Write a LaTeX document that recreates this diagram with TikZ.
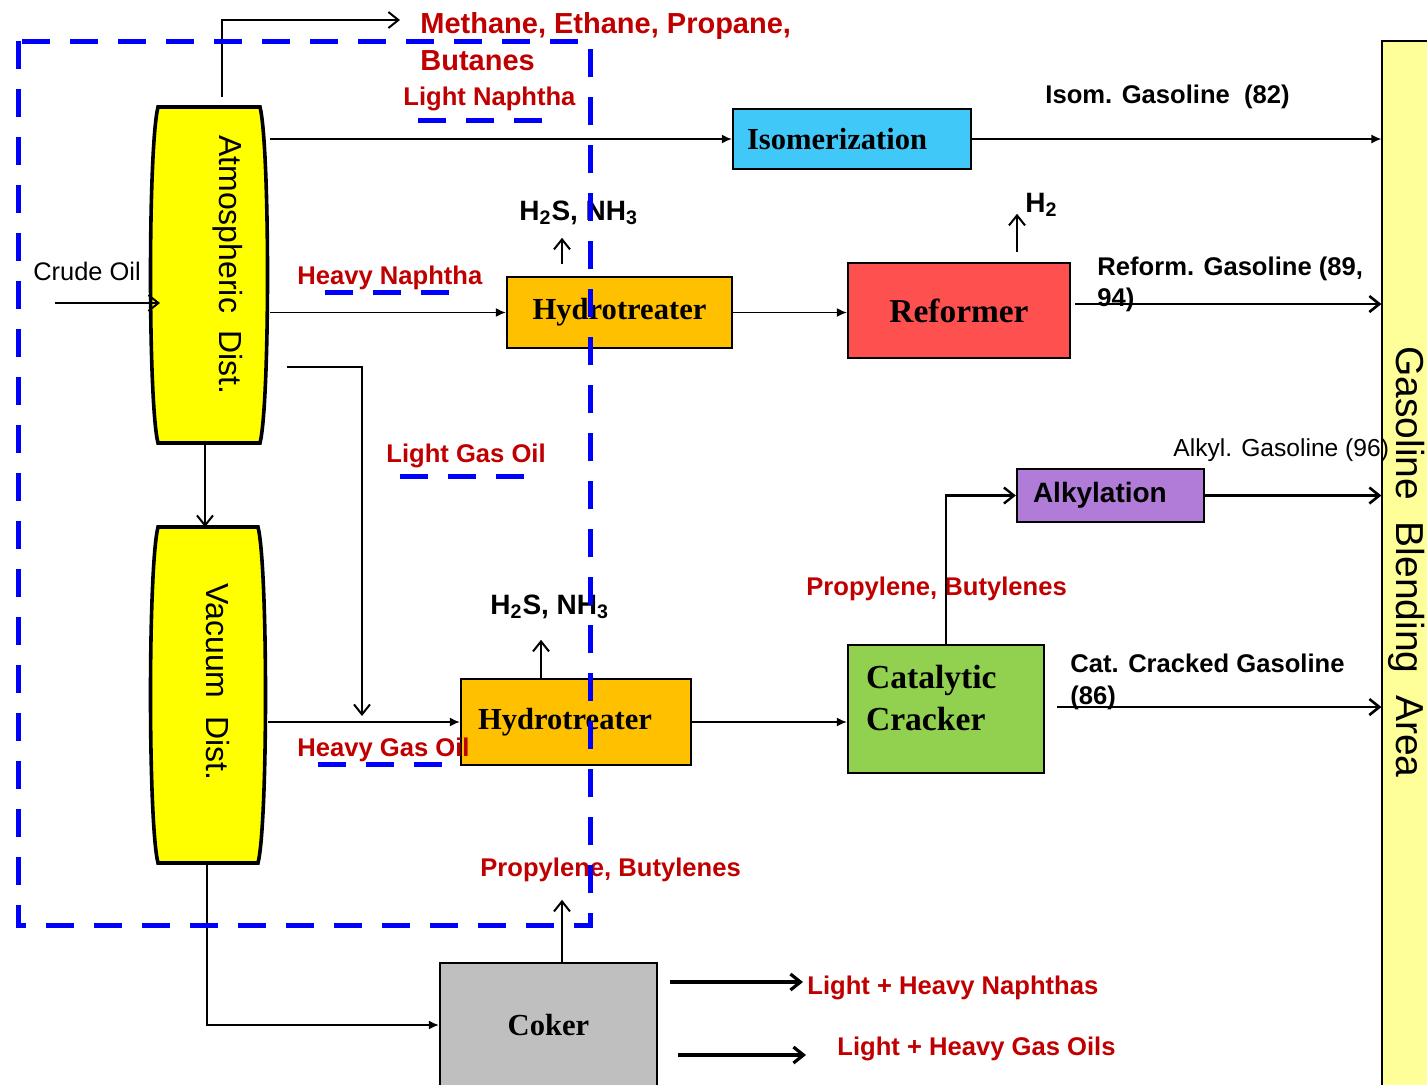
\documentclass[tikz,border=0pt]{standalone}
\usepackage{fontspec}
\setmainfont{Liberation Sans}
\newfontfamily\timesf{Liberation Serif}
\usetikzlibrary{arrows.meta,backgrounds}

\definecolor{lblred}{HTML}{C00000}
\definecolor{isocyan}{HTML}{3FC8F8}
\definecolor{htorange}{HTML}{FFC000}
\definecolor{refred}{HTML}{FF5050}
\definecolor{catgreen}{HTML}{92D050}
\definecolor{alkpurple}{HTML}{B07CD8}
\definecolor{cokergray}{HTML}{BFBFBF}
\definecolor{blendyellow}{HTML}{FFFF99}
\definecolor{colyellow}{HTML}{FFFF00}

\begin{document}
\begin{tikzpicture}[x=0.5pt, y=-0.5pt,
  unit/.style={draw, line width=1.2pt, inner sep=2pt, font=\timesf\bfseries\fontsize{15.3}{19}\selectfont},
  column/.style={inner sep=0pt, outer sep=0pt, minimum width=61pt, minimum height=168pt},
  vessel/.style={draw, fill=colyellow, line width=1.8pt},
  coltext/.style={rotate=-90, font=\fontsize{16}{18}\selectfont},
  feed/.style={anchor=west, inner sep=2pt, align=left, text=lblred, font=\bfseries\fontsize{12.8}{15}\selectfont},
  prod/.style={anchor=west, inner sep=2pt, align=left, font=\bfseries\fontsize{12.8}{16}\selectfont},
  flow/.style={-{Latex[length=5pt,width=4.5pt]}, line width=0.7pt},
  vent/.style={-{Straight Barb[length=5pt,width=8pt]}, line width=1pt},
  boundary/.style={draw=blue, line width=2.5pt, dash pattern=on 14pt off 10pt}
]
  \useasboundingbox (0,0) rectangle (1427,1084);

  % Gasoline blending area
  \node[draw, line width=0.6pt, fill=blendyellow, minimum width=30pt, minimum height=525pt] (blend) at (1412,566) {};
  \node[rotate=-90, font=\fontsize{19.5}{22}\selectfont] (blendtxt) at (1407,562) {Gasoline\ \ Blending\ \ Area};

  % Distillation columns
  \node[column] (atm) at (209,275) {};
  \node[column, minimum width=60pt] (vac) at (208,695) {};
  \begin{scope}[on background layer]
    \foreach \v in {atm,vac} {
      \draw[vessel] ([xshift=5pt]\v.north west) -- ([xshift=-5pt]\v.north east)
        .. controls ([yshift=-20pt]\v.north east) and ([yshift=20pt]\v.south east) .. ([xshift=-5pt]\v.south east)
        -- ([xshift=5pt]\v.south west)
        .. controls ([yshift=20pt]\v.south west) and ([yshift=-20pt]\v.north west) .. cycle;
    }
  \end{scope}
  \node[coltext] (atmtxt) at (228,265) {Atmospheric\ \ Dist.};
  \node[coltext] (vactxt) at (218,682) {Vacuum\ \ Dist.};

  % Process units
  \node[unit, fill=isocyan, minimum width=119pt, minimum height=30pt, text width=105pt, align=left] (isom) at (852,139) {Isomerization};
  \node[unit, fill=htorange, minimum width=112.5pt, minimum height=35.5pt] (ht1) at (619.5,312.5) {Hydrotreater};
  \node[unit, fill=refred, minimum width=111pt, minimum height=47.5pt, font=\timesf\bfseries\fontsize{16.7}{20}\selectfont] (ref) at (959,310.5) {Reformer};
  \node[unit, fill=htorange, minimum width=115pt, minimum height=43pt, text width=98pt, align=left] (ht2) at (576,722) {Hydrotreater};
  \node[unit, fill=catgreen, minimum width=98pt, minimum height=64pt, text width=80pt, text depth=32pt, align=left, font=\timesf\bfseries\fontsize{16.8}{21}\selectfont] (cat) at (946,709) {Catalytic\\Cracker};
  \node[unit, fill=alkpurple, minimum width=93.5pt, minimum height=26.5pt, text width=77.5pt, align=left, font=\bfseries\fontsize{14}{16}\selectfont] (alk) at (1110.5,495.5) {Alkylation};
  \node[unit, fill=cokergray, minimum width=108.5pt, minimum height=62pt] (coker) at (548.5,1025) {Coker};

  % Stream labels
  \node[prod, font=\fontsize{12.7}{15}\selectfont] (crude) at (29,271) {Crude Oil};
  \node[feed, font=\bfseries\fontsize{14.5}{18.5}\selectfont] (gases) at (416,41.5) {Methane, Ethane, Propane,\\Butanes};
  \node[feed] (lnaph) at (399,99) {Light Naphtha};
  \node[feed] (hnaph) at (293,278) {Heavy Naphtha};
  \node[feed] (lgo) at (382,456) {Light Gas Oil};
  \node[feed] (hgo) at (293,750) {Heavy Gas Oil};
  \node[feed] (olef1) at (802,589) {Propylene, Butylenes};
  \node[feed] (olef2) at (476,870) {Propylene, Butylenes};
  \node[feed] (cknaph) at (803,988) {Light + Heavy Naphthas};
  \node[feed] (ckgo) at (833,1049) {Light + Heavy Gas Oils};
  \node[prod] (isomg) at (1041,97) {Isom. Gasoline\ \ (82)};
  \node[prod, font=\bfseries\fontsize{12.8}{15.5}\selectfont] (refg) at (1093,284.5) {Reform. Gasoline (89,\\94)};
  \node[prod, font=\fontsize{12.3}{15}\selectfont] (alkg) at (1169,450) {Alkyl. Gasoline (96)};
  \node[prod] (catg) at (1066,682) {Cat. Cracked Gasoline\\(86)};
  \node[prod, font=\bfseries\fontsize{14}{16}\selectfont] (h2s1) at (515,213) {H\textsubscript{2}S, NH\textsubscript{3}};
  \node[prod, font=\bfseries\fontsize{14}{16}\selectfont] (h2s2) at (486,607) {H\textsubscript{2}S, NH\textsubscript{3}};
  \node[prod, font=\bfseries\fontsize{14}{16}\selectfont] (h2) at (1021,205) {H\textsubscript{2}};

  % Free ends
  \coordinate (crudein) at (55,303);
  \coordinate (gastip) at (400,20);
  \coordinate (lgoend) at (362,716);
  \coordinate (refout) at (1075,304);
  \coordinate (catout) at (1057,707);
  \coordinate (ck1) at (670,982);
  \coordinate (ck2) at (678,1055);

  % Arrows
  \draw[vent] (crudein) -- ([xshift=6pt]crudein -| atm.west);
  \draw[vent] ([xshift=6.5pt,yshift=5pt]atm.north) |- (gastip);
  \draw[flow] (atm.east |- isom) -- (isom);
  \draw[flow] (atm.east |- ht1) -- (ht1);
  \draw[vent] ([xshift=8.5pt,yshift=-46pt]atm.east) -| (lgoend);
  \draw[vent] ([xshift=-2pt]atm.south) -- ([xshift=-1.5pt]vac.north);
  \draw[flow] (vac.east |- ht2) -- (ht2);
  \draw[flow] ([xshift=-0.5pt]vac.south) |- (coker.west);
  \draw[vent] ([xshift=-28.75pt,yshift=6pt]ht1.north) -- ++(0,-26);
  \draw[vent] ([xshift=-17.5pt]ht2.north) -- ++(0,-38);
  \draw[vent] ([xshift=29pt,yshift=5pt]ref.north) -- ++(0,-38);
  \draw[vent] ([xshift=6.75pt]coker.north) -- ++(0,-62);
  \draw[flow] (ht1.east) -- (ht1.east -| ref.west);
  \draw[flow] (ht2.east) -- (ht2.east -| cat.west);
  \draw[vent, line width=1.2pt] (cat.north) |- (alk.west);
  \draw[flow] (isom.east) -- (isom.east -| blend.west);
  \draw[vent, line width=1.3pt] (refout) -- (refout -| blend.west);
  \draw[vent, line width=1.3pt] (alk.east) -- (alk.east -| blend.west);
  \draw[vent, line width=1.3pt] (catout) -- (catout -| blend.west);
  \draw[vent, line width=1.6pt] (ck1) -- (cknaph.west |- ck1);
  \draw[vent, line width=1.6pt] (ck2) -- ([xshift=-13.5pt]ckgo.west |- ck2);

  % Distillation boundary
  \draw[boundary] (18,41) rectangle (590,925);
  \foreach \x/\y in {418/120, 325/292, 400/476, 318/764}
    \draw[boundary] (\x,\y) -- ++(127,0);
\end{tikzpicture}
\end{document}
